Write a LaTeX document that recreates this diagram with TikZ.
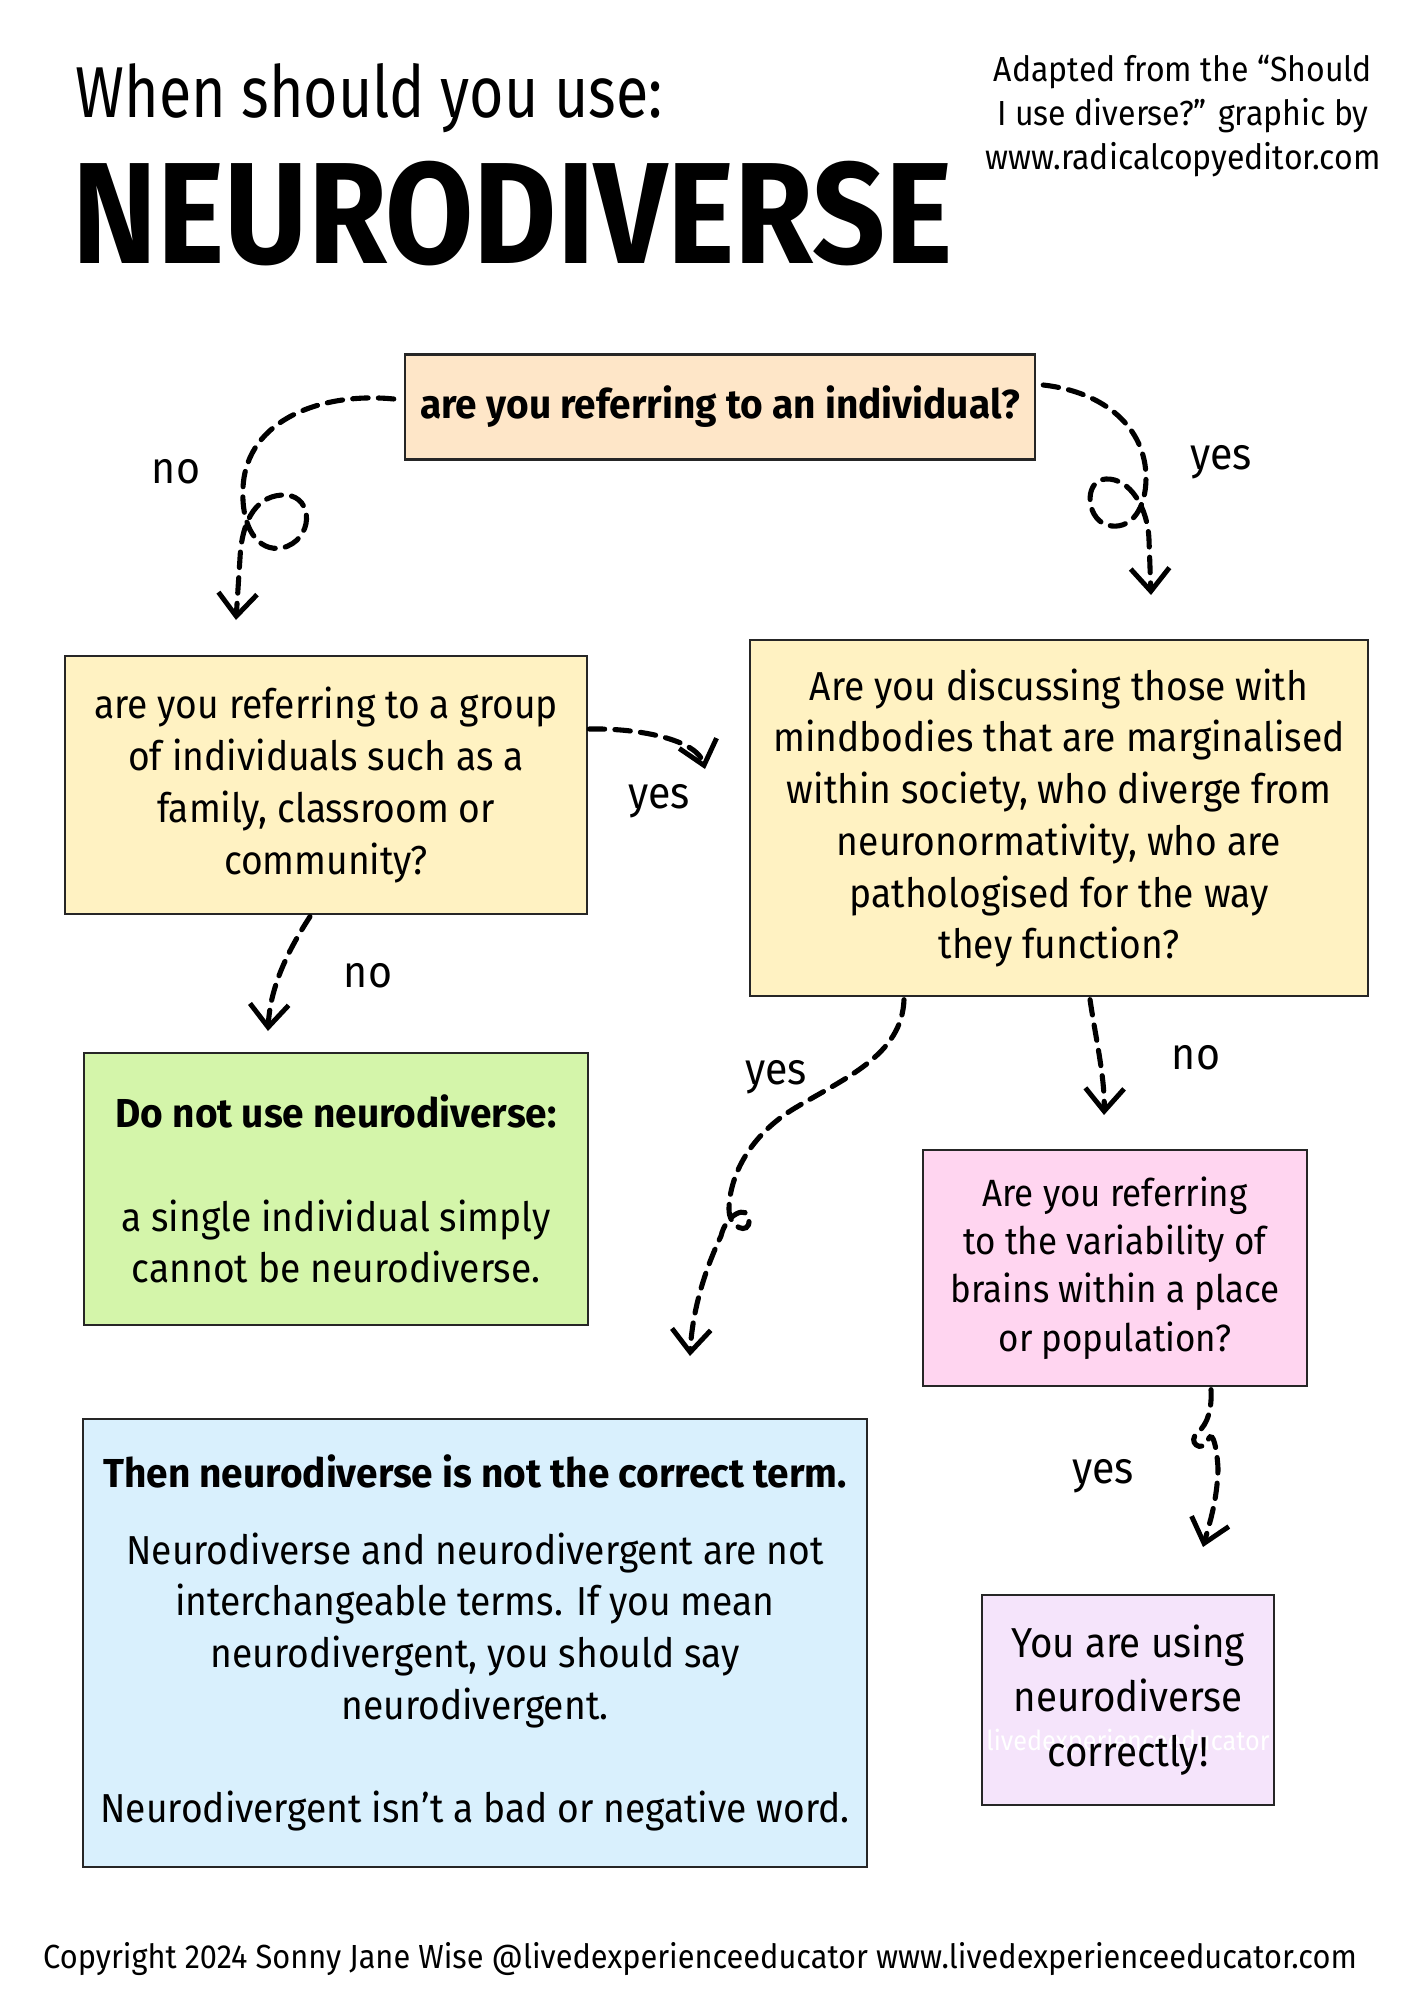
\documentclass[tikz,border=0pt]{standalone}
\usepackage{fontspec}
\setmainfont{Fira Sans}[FakeStretch=0.92]
\newfontfamily\strongfont{Fira Sans}[FakeStretch=0.96]
\newfontfamily\headfont{Fira Sans}[FakeStretch=0.82]
\newfontfamily\bannerfont{Fira Sans}[FakeStretch=0.887]
\usetikzlibrary{arrows.meta,calc,positioning}
\definecolor{peach}{HTML}{FEE6C8}
\definecolor{lemon}{HTML}{FFF2C2}
\definecolor{mint}{HTML}{D4F5AA}
\definecolor{blush}{HTML}{FFD5F0}
\definecolor{sky}{HTML}{D9F0FD}
\definecolor{lilac}{HTML}{F5E4FB}
\newcommand\bodytext{\fontsize{11.5}{14.7}\selectfont}
\newcommand\boldtext{\strongfont\bfseries}
\tikzset{
>={Straight Barb[length=6.5pt,width=11pt,line width=1.4pt]},
  qbox/.style={
    rectangle,
    draw=black!85, line width=0.6pt,
    inner sep=0pt,
    align=center,
    font=\bodytext},
  flow/.style={draw, ->, line width=1.45pt, dash pattern=on 4.4pt off 2.9pt, line cap=round},
  answer/.style={font=\fontsize{12.7}{15}\selectfont},
}

\begin{document}
\begin{tikzpicture}[x=0.01cm, y=0.01cm]
  \useasboundingbox (0,0) rectangle (1414,-2000);
     \node[anchor=base west, inner sep=0pt, font=\headfont\fontsize{20.5}{24}\selectfont] (title) at (75,-118) {When should you use:};
     \node[anchor=base west, inner sep=0pt, font=\bannerfont\bfseries\fontsize{41}{44}\selectfont] (word) at (72,-264) {NEURODIVERSE};
     \node[align=center, font=\fontsize{9.9}{12.4}\selectfont] (credit) at (1183,-116) {Adapted from the “Should\\ I use diverse?” graphic by\\ www.radicalcopyeditor.com};

     \node[qbox, fill=peach, minimum width=6.30cm, minimum height=1.05cm, font=\bodytext\boldtext] (ask) at (720,-407) {are you referring to an individual?};
     \node[qbox, fill=lemon, minimum width=5.22cm, minimum height=2.57cm] (group) at (326,-785) {are you referring to a group\\ of individuals such as a\\ family, classroom or\\ community?};
     \node[qbox, fill=lemon, minimum width=6.18cm, minimum height=3.55cm] (margin) at (1059,-818) {Are you discussing those with\\ mindbodies that are marginalised\\ within society, who diverge from\\ neuronormativity, who are\\ pathologised for the way\\ they function?};
     \node[qbox, fill=mint, minimum width=5.04cm, minimum height=2.72cm] (donot) at (336,-1189) {{\boldtext Do not use neurodiverse:}\\[14.7pt] a single individual simply\\ cannot be neurodiverse.};
     \node[qbox, fill=blush, minimum width=3.84cm, minimum height=2.35cm, font=\fontsize{10.8}{13.75}\selectfont] (variab) at (1115,-1268) {Are you referring\\ to the variability of\\ brains within a place\\ or population?};
     \node[qbox, fill=sky, minimum width=7.83cm, minimum height=4.48cm] (notterm) at (475,-1643) {{\boldtext Then neurodiverse is not the correct term.}\\[7pt] Neurodiverse and neurodivergent are not\\ interchangeable terms. If you mean\\ neurodivergent, you should say\\ neurodivergent.\\[14.7pt] Neurodivergent isn’t a bad or negative word.};
     \node[qbox, fill=lilac, minimum width=2.91cm, minimum height=2.10cm, font=\fontsize{11.9}{15.4}\selectfont,
       path picture={\node[white, font=\fontsize{7.8}{10}\selectfont] at ($(path picture bounding box.center)+(0,-43)$) {livedexperienceeducator};}] (correct) at (1128,-1700) {You are using\\ neurodiverse\\ correctly!};

     \node[anchor=base, font=\fontsize{9.5}{12}\selectfont] (copy) at (700,-1968) {Copyright 2024 Sonny Jane Wise @livedexperienceeducator www.livedexperienceeducator.com};

     \node[answer] (no1) at (176,-472) {no};
     \node[answer] (yes1) at (1221,-462) {yes};
     \node[answer] (yes2) at (659,-801) {yes};
     \node[answer] (no2) at (368,-976) {no};
     \node[answer] (yes3) at (776,-1077) {yes};
     \node[answer] (no3) at (1196,-1058) {no};
     \node[answer] (yes4) at (1103,-1476) {yes};

     \coordinate (tipA) at (236,-620);
     \coordinate (tipB) at (1151,-595);
     \coordinate (tipC) at (705,-769);
     \coordinate (tipD) at (268,-1031);
     \coordinate (tipE) at (690,-1356);
     \coordinate (tipF) at (1104,-1115);
     \coordinate (tipG) at (1203,-1547);

\draw[flow] ($(ask.west)+(-10,8)$) .. controls (325,-392) and (246,-418) .. (243,-488) .. controls (241,-528) and (258,-552) .. (282,-548) .. controls (314,-540) and (314,-497) .. (286,-495) .. controls (258,-494) and (242,-518) .. (240,-558) -- (tipA);
\draw[flow] ($(ask.east)+(7,22)$) .. controls (1105,-392) and (1146,-428) .. (1146,-478) .. controls (1146,-508) and (1132,-528) .. (1112,-526) .. controls (1086,-524) and (1082,-480) .. (1106,-479) .. controls (1130,-478) and (1148,-508) .. (1149,-540) -- (tipB);
\draw[flow] ($(group.east)+(1,56)$) .. controls (640,-728) and (697,-740) .. (tipC);
\draw[flow] ($(group.south)+(-16,-2)$) .. controls (285,-955) and (270,-990) .. (tipD);
\draw[flow] ($(margin.south)+(-155,-3)$) .. controls (902,-1055) and (845,-1078) .. (795,-1108) .. controls (750,-1135) and (730,-1175) .. (729,-1208) .. controls (728,-1228) and (750,-1236) .. (749,-1220) .. controls (748,-1204) and (726,-1214) .. (721,-1236) .. controls (702,-1276) and (692,-1316) .. (tipE);
\draw[flow] ($(margin.south)+(31,-3)$) .. controls (1096,-1040) and (1105,-1078) .. (tipF);
\draw[flow] ($(variab.south)+(96,-3)$) .. controls (1212,-1408) and (1208,-1424) .. (1198,-1432) .. controls (1186,-1442) and (1202,-1454) .. (1208,-1440) .. controls (1214,-1426) and (1218,-1460) .. (1218,-1470) .. controls (1217,-1500) and (1210,-1522) .. (tipG);
  \end{tikzpicture}
\end{document}
